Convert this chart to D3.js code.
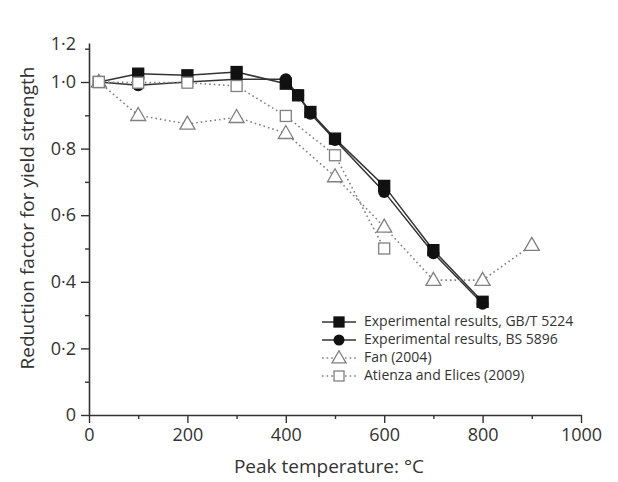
<!DOCTYPE html>
<html>
<head>
<meta charset="utf-8">
<script src="https://cdn.jsdelivr.net/npm/d3@7"></script>
<style>
  body { margin: 0; background: #fff; }
  text { font-family: "Open Sans", "Noto Sans", sans-serif; }
</style>
</head>
<body>
<svg id="chart" width="618" height="482"></svg>
<script>
// Reduction factor for yield strength vs peak temperature
const gbTemps = [20, 100, 200, 300, 400, 425, 450, 500, 600, 700, 800];
const gbValues = [1.0, 1.025, 1.02, 1.03, 0.995, 0.96, 0.91, 0.83, 0.688, 0.495, 0.34];

const bsTemps = [20, 100, 200, 300, 400, 425, 450, 500, 600, 700, 800];
const bsValues = [1.0, 0.99, 1.0, 1.008, 1.008, 0.96, 0.905, 0.826, 0.67, 0.486, 0.334];

const fanTemps = [20, 100, 200, 300, 400, 500, 600, 700, 800, 900];
const fanValues = [1.0, 0.9, 0.874, 0.894, 0.846, 0.716, 0.565, 0.405, 0.405, 0.51];

const atiTemps = [20, 100, 200, 300, 400, 500, 600];
const atiValues = [1.0, 0.998, 0.998, 0.988, 0.898, 0.78, 0.50];

const xMajorTicks = [0, 200, 400, 600, 800, 1000];
const xMinorTicks = [100, 300, 500, 700, 900];
const yMajorTicks = [0, 0.2, 0.4, 0.6, 0.8, 1.0];
const yMinorTicks = [0.1, 0.3, 0.5, 0.7, 0.9, 1.1];
const yTopLabel = "1·2";
const yAxisTop = 1.117;

const seriesNames = [
  "Experimental results, GB/T 5224",
  "Experimental results, BS 5896",
  "Fan (2004)",
  "Atienza and Elices (2009)"
];

const svg = d3.select("#chart");
const x = d3.scaleLinear().domain([0, 1000]).range([89, 581]);
const y = d3.scaleLinear().domain([0, 1]).range([415, 82]);

const axisColor = "#333";
const tickFont = 18;
const titleFont = 19;
const fmt = v => v === 0 ? "0" : d3.format(".1f")(v).replace(".", "·");

// x axis
const gx = svg.append("g").attr("transform", `translate(0,${y(0)})`);
gx.call(d3.axisBottom(x).tickValues(xMajorTicks).tickSize(8).tickSizeOuter(0).tickPadding(5).tickFormat(d3.format("d")));
gx.append("g").call(d3.axisBottom(x).tickValues(xMinorTicks).tickSize(4).tickFormat(""))
  .select(".domain").remove();

// y axis
const gy = svg.append("g").attr("transform", `translate(${x(0)},0)`);
const yAxisScale = y.copy().domain([0, yAxisTop]).range([y(0), y(yAxisTop)]);
gy.call(d3.axisLeft(yAxisScale).tickValues(yMajorTicks).tickSize(8).tickSizeOuter(0).tickPadding(5).tickFormat(fmt));
gy.append("g").call(d3.axisLeft(yAxisScale).tickValues(yMinorTicks).tickSize(4).tickFormat(""))
  .select(".domain").remove();
gy.append("text")
  .attr("x", -13).attr("y", y(yAxisTop) + 2)
  .attr("text-anchor", "end").attr("dominant-baseline", "middle")
  .attr("fill", axisColor).attr("font-size", tickFont)
  .text(yTopLabel);

svg.selectAll(".domain").attr("stroke", axisColor).attr("stroke-width", 1.6);
svg.selectAll(".tick line").attr("stroke", axisColor).attr("stroke-width", 1.4);
svg.selectAll(".tick text").attr("fill", axisColor).attr("font-size", tickFont)
  .attr("font-family", "'Open Sans', sans-serif");

// axis titles
svg.append("text")
  .attr("x", (x(0) + x(1000)) / 2 - 6).attr("y", 473)
  .attr("text-anchor", "middle").attr("font-size", titleFont).attr("fill", axisColor)
  .text("Peak temperature: °C");
svg.append("text")
  .attr("transform", `translate(34,218) rotate(-90)`)
  .attr("text-anchor", "middle").attr("font-size", titleFont).attr("fill", axisColor)
  .text("Reduction factor for yield strength");

const line = d3.line().x(d => x(d[0])).y(d => y(d[1]));
const zip = (t, v) => t.map((d, i) => [d, v[i]]);

const gb = zip(gbTemps, gbValues);
const bs = zip(bsTemps, bsValues);
const fan = zip(fanTemps, fanValues);
const ati = zip(atiTemps, atiValues);

const solidColor = "#333";
const dotColor = "#808080";
const dotDash = "1.6,3";

// marker drawers
function square(g, cx, cy, s, fill, stroke) {
  g.append("rect").attr("x", cx - s / 2).attr("y", cy - s / 2).attr("width", s).attr("height", s)
    .attr("fill", fill).attr("stroke", stroke).attr("stroke-width", 1.3);
}
function circle(g, cx, cy, r, fill) {
  g.append("circle").attr("cx", cx).attr("cy", cy).attr("r", r).attr("fill", fill);
}
function triangle(g, cx, cy, s) {
  const h = s * 0.866;
  g.append("path")
    .attr("d", `M${cx},${cy - h * 0.6}L${cx + s / 2},${cy + h * 0.4}L${cx - s / 2},${cy + h * 0.4}Z`)
    .attr("fill", "#fff").attr("stroke", dotColor).attr("stroke-width", 1.3);
}

// lines
svg.append("path").datum(gb).attr("d", line).attr("fill", "none").attr("stroke", solidColor).attr("stroke-width", 1.5);
svg.append("path").datum(bs).attr("d", line).attr("fill", "none").attr("stroke", solidColor).attr("stroke-width", 1.5);
svg.append("path").datum(fan).attr("d", line).attr("fill", "none").attr("stroke", dotColor).attr("stroke-width", 1.6).attr("stroke-dasharray", dotDash);
svg.append("path").datum(ati).attr("d", line).attr("fill", "none").attr("stroke", dotColor).attr("stroke-width", 1.6).attr("stroke-dasharray", dotDash);

// markers
const mg = svg.append("g");
gb.forEach(d => square(mg, x(d[0]), y(d[1]), 11, "#111", "#111"));
bs.forEach(d => circle(mg, x(d[0]), y(d[1]), 6, "#111"));
fan.forEach(d => triangle(mg, x(d[0]), y(d[1]), 15));
ati.forEach(d => square(mg, x(d[0]), y(d[1]), 11, "#fff", dotColor));

// legend
const lg = svg.append("g");
const legY = [322, 340, 358, 376];
const lx0 = 322, lx1 = 356, lmx = 339, ltx = 364;
seriesNames.forEach((name, i) => {
  const yy = legY[i];
  const dotted = i >= 2;
  lg.append("line").attr("x1", lx0).attr("x2", lx1).attr("y1", yy).attr("y2", yy)
    .attr("stroke", dotted ? dotColor : solidColor).attr("stroke-width", 1.5)
    .attr("stroke-dasharray", dotted ? dotDash : null);
  if (i === 0) square(lg, lmx, yy, 10, "#111", "#111");
  if (i === 1) circle(lg, lmx, yy, 5.5, "#111");
  if (i === 2) triangle(lg, lmx, yy, 14);
  if (i === 3) square(lg, lmx, yy, 10, "#fff", dotColor);
  lg.append("text").attr("x", ltx).attr("y", yy).attr("dominant-baseline", "middle")
    .attr("font-size", 14).attr("fill", axisColor).text(name);
});
</script>
</body>
</html>
